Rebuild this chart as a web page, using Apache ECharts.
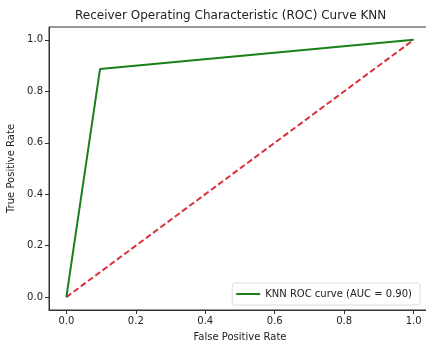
<!DOCTYPE html>
<html>
<head>
<meta charset="utf-8">
<script src="https://cdn.jsdelivr.net/npm/echarts@6/dist/echarts.min.js"></script>
<style>html,body{margin:0;padding:0;background:#fff}#c{width:426px;height:349px}</style>
</head>
<body>
<div id="c"></div>
<script>
var fpr = [0, 0.097, 1];
var tpr = [0, 0.887, 1];
var chanceX = [0, 1];
var chanceY = [0, 1];
var tickValues = [0, 0.2, 0.4, 0.6, 0.8, 1.0];
var titleText = 'Receiver Operating Characteristic (ROC) Curve KNN';
var legendName = 'KNN ROC curve (AUC = 0.90)';

var chart = echarts.init(document.getElementById('c'));
var font = 'DejaVu Sans';
chart.setOption({
  animation: false,
  textStyle: {fontFamily: font},
  graphic: [{
    type: 'text', left: 243 - 168, top: 10,
    style: {text: titleText, font: '12px DejaVu Sans', fill: '#222'}
  }],
  grid: {left: 49, right: -5, top: 27, bottom: 39, show: true, borderColor: '#333', borderWidth: 1, backgroundColor: '#fff', outerBoundsMode: 'none'},
  legend: {
    right: 6, bottom: 44, orient: 'vertical',
    data: [{name: legendName, icon: 'rect'}],
    itemWidth: 24, itemHeight: 2, itemGap: 4,
    padding: [6, 8, 6, 4],
    borderColor: '#ddd', borderWidth: 1, borderRadius: 3,
    backgroundColor: '#fff',
    textStyle: {fontSize: 10, color: '#222', fontFamily: font}
  },
  xAxis: {
    type: 'value', min: -0.05, max: 1.05,
    name: 'False Positive Rate', nameLocation: 'middle', nameGap: 22,
    nameTextStyle: {fontSize: 10, color: '#222', fontFamily: font},
    axisLine: {show: true, onZero: false, lineStyle: {color: '#333'}},
    axisTick: {show: true, customValues: tickValues, length: 4, lineStyle: {color: '#333'}},
    axisLabel: {customValues: tickValues, fontSize: 10, color: '#222', margin: 6, formatter: function(v){return v.toFixed(1);}},
    splitLine: {show: false}
  },
  yAxis: {
    type: 'value', min: -0.05, max: 1.05,
    name: 'True Positive Rate', nameLocation: 'middle', nameGap: 30, nameRotate: 90,
    nameTextStyle: {fontSize: 10, color: '#222', fontFamily: font},
    axisLine: {show: true, onZero: false, lineStyle: {color: '#333'}},
    axisTick: {show: true, customValues: tickValues, length: 4, lineStyle: {color: '#333'}},
    axisLabel: {customValues: tickValues, fontSize: 10, color: '#222', margin: 6, formatter: function(v){return v.toFixed(1);}},
    splitLine: {show: false}
  },
  series: [
    {
      name: legendName, type: 'line', symbol: 'none',
      data: fpr.map(function(x, i){return [x, tpr[i]];}),
      lineStyle: {color: '#1a7f1a', width: 2}, itemStyle: {color: '#1a7f1a'}, z: 3
    },
    {
      name: 'chance', type: 'line', symbol: 'none',
      data: chanceX.map(function(x, i){return [x, chanceY[i]];}),
      lineStyle: {color: '#d9303c', width: 2, type: [6, 3]}, z: 2
    }
  ]
});
</script>
</body>
</html>
